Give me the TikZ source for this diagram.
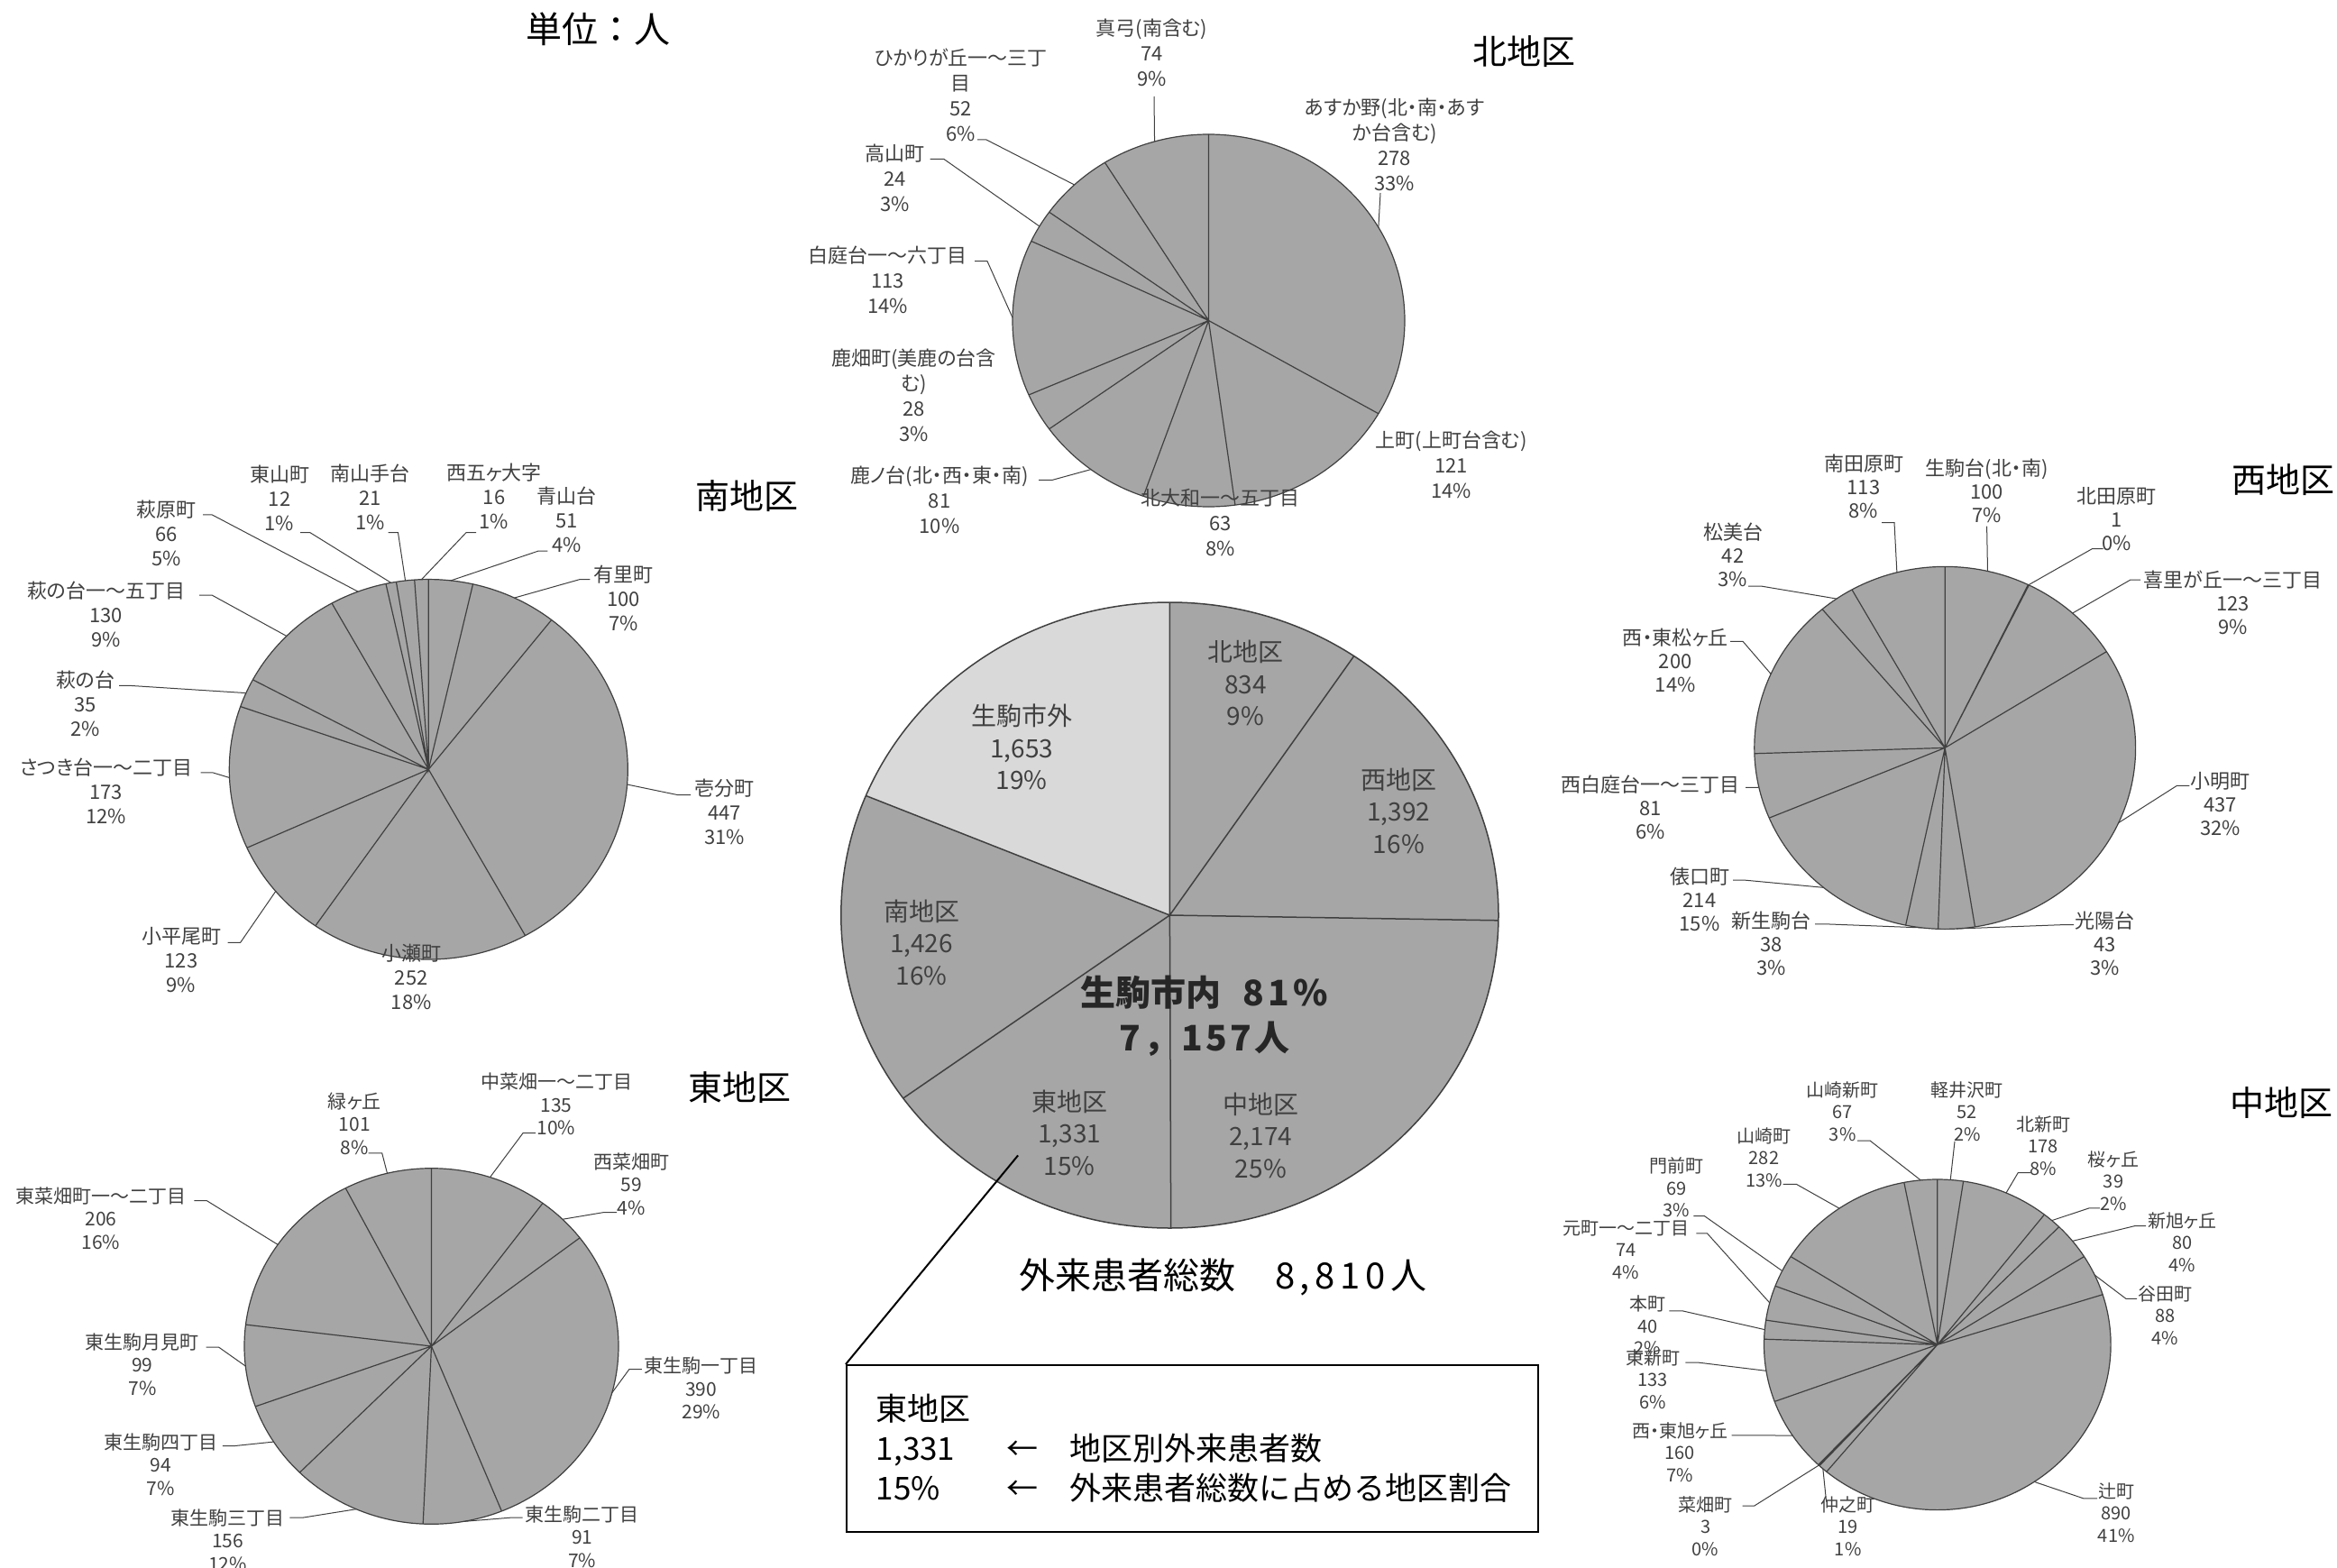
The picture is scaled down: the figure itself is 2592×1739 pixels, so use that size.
\documentclass[tikz,border=0pt]{standalone}
\usepackage{fontspec}
\setmainfont{Noto Sans CJK JP}[RawFeature=+palt]
\newfontfamily\wide{Noto Sans CJK JP}
\definecolor{pgray}{HTML}{A6A6A6}
\definecolor{lgray}{HTML}{D9D9D9}
\definecolor{dgray}{HTML}{404040}
\begin{document}
\begin{tikzpicture}[x=1pt, y=-1pt,
    pie/.style={fill=pgray, draw=dgray, line width=1.2pt},
    cut/.style={draw=dgray, line width=1.2pt},
    lead/.style={draw=dgray, line width=1pt},
    lab/.style={align=center, inner sep=0pt, text=dgray},
    labn/.style={lab, font=\fontsize{22}{28}\selectfont},
    labs/.style={lab, font=\fontsize{22}{27}\selectfont},
    labw/.style={lab, font=\fontsize{22}{26}\selectfont},
    labe/.style={lab, font=\fontsize{21}{25.5}\selectfont},
    labk/.style={lab, font=\fontsize{20}{24.5}\selectfont},
    labc/.style={lab, font=\wide\fontsize{28}{35.5}\selectfont},
    ttl/.style={inner sep=0pt, font=\fontsize{38}{40}\selectfont}]
    \useasboundingbox (0,0) rectangle (2592,1739);

    \node[ttl, font=\wide\fontsize{40}{44}\selectfont] (unit) at (663,32) {単位：人};
    \node[ttl] (tn) at (1690,57) {北地区};
    \node[ttl] (ts) at (828,550) {南地区};
    \node[ttl] (tw) at (2532,532.5) {西地区};
    \node[ttl] (te) at (820.7,1206) {東地区};
    \node[ttl] (tk) at (2530,1223) {中地区};

    \begin{scope}[shift={(1340.5,355.5)}, x=217.5pt, y=-206.5pt]
        \filldraw[pie] (0,0) circle [radius=1];
        \draw[cut] (-90:1) -- (0,0) -- (30:1) (0,0) -- (82.23:1) (0,0) -- (109.42:1)
            (0,0) -- (144.39:1) (0,0) -- (156.47:1) (0,0) -- (205.25:1)
            (0,0) -- (215.61:1) (0,0) -- (238.06:1);
        \coordinate (n1e) at (-30:1);
        \coordinate (n4e) at (126.9:1);
        \coordinate (n6e) at (180.9:1);
        \coordinate (n7e) at (210.4:1);
        \coordinate (n8e) at (226.8:1);
        \coordinate (n9e) at (254:1);
    \end{scope}
    \node[labn] (n1) at (1546.8,160.7) {あすか野(北・南・あす\\か台含む)\\278\\33\%};
    \node[labn] (n2) at (1609.6,515.6) {上町(上町台含む)\\121\\14\%};
    \node[labn] (n3) at (1353.3,579) {北大和一～五丁目\\63\\8\%};
    \node[labn] (n4) at (1042,554.5) {鹿ノ台(北・西・東・南)\\81\\10\%};
    \node[labn] (n5) at (1013.4,438.6) {鹿畑町(美鹿の台含\\む)\\28\\3\%};
    \node[labn] (n6) at (984.6,310.7) {白庭台一～六丁目\\113\\14\%};
    \node[labn] (n7) at (992.4,197.3) {高山町\\24\\3\%};
    \node[labn] (n8) at (1065.7,105.5) {ひかりが丘一～三丁\\目\\52\\6\%};
    \node[labn] (n9) at (1277.5,58.6) {真弓(南含む)\\74\\9\%};
    \coordinate (n1a) at (1531,214);
    \coordinate (n4a) at (1152,532.4);
    \coordinate (n6a) at (1081,289.7);
    \coordinate (n7a) at (1031.7,176.3);
    \coordinate (n8a) at (1084,155);
    \coordinate (n9a) at (1280,107);
    \draw[lead] (n1a) -- (n1e);
    \draw[lead] (n4a) -- ++(15,0) -- (n4e);
    \draw[lead] (n6a) -- ++(14,0) -- (n6e);
    \draw[lead] (n7a) -- ++(15,0) -- (n7e);
    \draw[lead] (n8a) -- ++(10,0) -- (n8e);
    \draw[lead] (n9a) -- (n9e);

    \begin{scope}[shift={(475.3,853.3)}, x=221pt, y=-210.75pt]
        \filldraw[pie] (0,0) circle [radius=1];
        \draw[cut] (-90:1) -- (0,0) -- (-77.13:1) (0,0) -- (-51.88:1) (0,0) -- (60.97:1)
            (0,0) -- (124.59:1) (0,0) -- (155.64:1) (0,0) -- (199.31:1)
            (0,0) -- (208.15:1) (0,0) -- (240.97:1) (0,0) -- (257.63:1)
            (0,0) -- (260.66:1) (0,0) -- (265.96:1);
        \coordinate (s1e) at (259.15:1);
        \coordinate (s2e) at (263.31:1);
        \coordinate (s3e) at (267.98:1);
        \coordinate (s4e) at (-83.56:1);
        \coordinate (s5e) at (-64.5:1);
        \coordinate (s6e) at (4.55:1);
        \coordinate (s8e) at (140.1:1);
        \coordinate (s9e) at (177.5:1);
        \coordinate (s10e) at (203.7:1);
        \coordinate (s11e) at (224.56:1);
        \coordinate (s12e) at (249.3:1);
    \end{scope}
    \node[labs] (s1) at (310,552.2) {東山町\\12\\1\%};
    \node[labs] (s2) at (410.4,551.1) {南山手台\\21\\1\%};
    \node[labs] (s3) at (548,550.6) {西五ヶ大字\\16\\1\%};
    \node[labs] (s4) at (628.5,576.4) {青山台\\51\\4\%};
    \node[labs] (s5) at (691.7,663.7) {有里町\\100\\7\%};
    \node[labs] (s6) at (803.6,900.4) {壱分町\\447\\31\%};
    \node[labs] (s7) at (456.3,1083.8) {小瀬町\\252\\18\%};
    \node[labs] (s8) at (201,1064.5) {小平尾町\\123\\9\%};
    \node[labs] (s9) at (117.7,877.6) {さつき台一～二丁目\\173\\12\%};
    \node[labs] (s10) at (94.7,780.1) {萩の台\\35\\2\%};
    \node[labs] (s11) at (117.7,681.7) {萩の台一～五丁目\\130\\9\%};
    \node[labs] (s12) at (184.8,591.6) {萩原町\\66\\5\%};
    \coordinate (s1a) at (333,590.7);
    \coordinate (s2a) at (430.5,590.7);
    \coordinate (s3a) at (528,590.7);
    \coordinate (s4a) at (607.3,611);
    \coordinate (s5a) at (654.4,642.5);
    \coordinate (s6a) at (766,881.7);
    \coordinate (s8a) at (252.6,1045.4);
    \coordinate (s9a) at (222.7,856.8);
    \coordinate (s10a) at (132,760.3);
    \coordinate (s11a) at (221,660);
    \coordinate (s12a) at (225,570.8);
    \draw[lead] (s1a) -- ++(11,0) -- (s1e);
    \draw[lead] (s2a) -- ++(11,0) -- (s2e);
    \draw[lead] (s3a) -- ++(-11,0) -- (s3e);
    \draw[lead] (s4a) -- ++(-10,0) -- (s4e);
    \draw[lead] (s5a) -- ++(-11,0) -- (s5e);
    \draw[lead] (s6a) -- ++(-14,0) -- (s6e);
    \draw[lead] (s8a) -- ++(14,0) -- (s8e);
    \draw[lead] (s9a) -- ++(13,0) -- (s9e);
    \draw[lead] (s10a) -- ++(11,0) -- (s10e);
    \draw[lead] (s11a) -- ++(14,0) -- (s11e);
    \draw[lead] (s12a) -- ++(10,0) -- (s12e);

    \begin{scope}[shift={(2157.2,829.4)}, x=211.4pt, y=-201pt]
        \filldraw[pie] (0,0) circle [radius=1];
        \draw[cut] (-90:1) -- (0,0) -- (-64.14:1) (0,0) -- (-63.88:1) (0,0) -- (-32.07:1)
            (0,0) -- (80.95:1) (0,0) -- (92.07:1) (0,0) -- (101.9:1)
            (0,0) -- (157.24:1) (0,0) -- (178.19:1) (0,0) -- (229.91:1)
            (0,0) -- (240.78:1);
        \coordinate (w1e) at (-77.07:1);
        \coordinate (w2e) at (-64.01:1);
        \coordinate (w3e) at (-48:1);
        \coordinate (w4e) at (24.44:1);
        \coordinate (w5e) at (86.51:1);
        \coordinate (w6e) at (96.99:1);
        \coordinate (w7e) at (129.57:1);
        \coordinate (w8e) at (167.72:1);
        \coordinate (w9e) at (204.05:1);
        \coordinate (w10e) at (235.35:1);
        \coordinate (w11e) at (255.39:1);
    \end{scope}
    \node[labw] (w1) at (2203.6,543.9) {生駒台(北・南)\\100\\7\%};
    \node[labw] (w2) at (2347.5,575.5) {北田原町\\1\\0\%};
    \node[labw] (w3) at (2476.7,668.8) {喜里が丘一～三丁目\\123\\9\%};
    \node[labw] (w4) at (2462.5,891.2) {小明町\\437\\32\%};
    \node[labw] (w5) at (2334.4,1045.9) {光陽台\\43\\3\%};
    \node[labw] (w6) at (1964.6,1045.9) {新生駒台\\38\\3\%};
    \node[labw] (w7) at (1885,997) {俵口町\\214\\15\%};
    \node[labw] (w8) at (1830.9,895.2) {西白庭台一～三丁目\\81\\6\%};
    \node[labw] (w9) at (1858.2,732.7) {西・東松ヶ丘\\200\\14\%};
    \node[labw] (w10) at (1922,615.7) {松美台\\42\\3\%};
    \node[labw] (w11) at (2067,539.3) {南田原町\\113\\8\%};
    \coordinate (w1a) at (2203.6,583.6);
    \coordinate (w2a) at (2332.7,608.5);
    \coordinate (w3a) at (2374,643);
    \coordinate (w4a) at (2428.3,871.4);
    \coordinate (w5a) at (2300,1025.7);
    \coordinate (w6a) at (2013,1024.9);
    \coordinate (w7a) at (1922,976.2);
    \coordinate (w8a) at (1936,873.4);
    \coordinate (w9a) at (1919,711.3);
    \coordinate (w10a) at (1939,650);
    \coordinate (w11a) at (2087,579.6);
    \draw[lead] (w1a) -- (w1e);
    \draw[lead] (w2a) -- ++(-12,0) -- (w2e);
    \draw[lead] (w3a) -- ++(-11,0) -- (w3e);
    \draw[lead] (w4a) -- ++(-14,0) -- (w4e);
    \draw[lead] (w5a) -- ++(-14,0) -- (w5e);
    \draw[lead] (w6a) -- ++(14,0) -- (w6e);
    \draw[lead] (w7a) -- ++(14,0) -- (w7e);
    \draw[lead] (w8a) -- ++(14,0) -- (w8e);
    \draw[lead] (w9a) -- ++(14,0) -- (w9e);
    \draw[lead] (w10a) -- ++(14,0) -- (w10e);
    \draw[lead] (w11a) -- ++(14,0) -- (w11e);

    \begin{scope}[shift={(478.5,1493)}, x=207.5pt, y=-197.3pt]
        \filldraw[pie] (0,0) circle [radius=1];
        \draw[cut] (-90:1) -- (0,0) -- (-53.49:1) (0,0) -- (-37.53:1) (0,0) -- (67.95:1)
            (0,0) -- (92.57:1) (0,0) -- (134.76:1) (0,0) -- (160.19:1)
            (0,0) -- (186.96:1) (0,0) -- (242.68:1);
        \coordinate (e1e) at (256.34:1);
        \coordinate (e2e) at (-71.74:1);
        \coordinate (e3e) at (-45.51:1);
        \coordinate (e4e) at (15.21:1);
        \coordinate (e5e) at (80.26:1);
        \coordinate (e6e) at (113.67:1);
        \coordinate (e7e) at (147.48:1);
        \coordinate (e8e) at (173.58:1);
        \coordinate (e9e) at (214.82:1);
    \end{scope}
    \node[labe] (e1) at (393.2,1246.2) {緑ヶ丘\\101\\8\%};
    \node[labe] (e2) at (617,1224.6) {中菜畑一～二丁目\\135\\10\%};
    \node[labe] (e3) at (700.3,1313.2) {西菜畑町\\59\\4\%};
    \node[labe] (e4) at (777.8,1539.7) {東生駒一丁目\\390\\29\%};
    \node[labe] (e5) at (645.8,1704.2) {東生駒二丁目\\91\\7\%};
    \node[labe] (e6) at (252.6,1708) {東生駒三丁目\\156\\12\%};
    \node[labe] (e7) at (178,1624.2) {東生駒四丁目\\94\\7\%};
    \node[labe] (e8) at (157.9,1513) {東生駒月見町\\99\\7\%};
    \node[labe] (e9) at (112,1351.2) {東菜畑町一～二丁目\\206\\16\%};
    \coordinate (e1a) at (408.7,1278.8);
    \coordinate (e2a) at (594,1256.7);
    \coordinate (e3a) at (684,1344.5);
    \coordinate (e4a) at (711.8,1518.7);
    \coordinate (e5a) at (579.7,1683.2);
    \coordinate (e6a) at (321.4,1683.2);
    \coordinate (e7a) at (246.8,1603.5);
    \coordinate (e8a) at (228.5,1494);
    \coordinate (e9a) at (215.3,1331.6);
    \draw[lead] (e1a) -- ++(15,0) -- (e1e);
    \draw[lead] (e2a) -- ++(-14,0) -- (e2e);
    \draw[lead] (e3a) -- ++(-14,0) -- (e3e);
    \draw[lead] (e4a) -- ++(-14,0) -- (e4e);
    \draw[lead] (e5a) -- ++(-14,0) -- (e5e);
    \draw[lead] (e6a) -- ++(14,0) -- (e6e);
    \draw[lead] (e7a) -- ++(14,0) -- (e7e);
    \draw[lead] (e8a) -- ++(14,0) -- (e8e);
    \draw[lead] (e9a) -- ++(14,0) -- (e9e);

    \begin{scope}[shift={(2148.8,1491.3)}, x=192.3pt, y=-183.3pt]
        \filldraw[pie] (0,0) circle [radius=1];
        \draw[cut] (-90:1) -- (0,0) -- (-81.39:1) (0,0) -- (-51.91:1) (0,0) -- (-45.46:1)
            (0,0) -- (-32.21:1) (0,0) -- (-17.64:1) (0,0) -- (129.74:1)
            (0,0) -- (132.89:1) (0,0) -- (133.39:1) (0,0) -- (159.88:1)
            (0,0) -- (181.9:1) (0,0) -- (188.53:1) (0,0) -- (200.78:1)
            (0,0) -- (212.21:1) (0,0) -- (258.91:1);
        \coordinate (k1e) at (-85.7:1);
        \coordinate (k2e) at (-66.65:1);
        \coordinate (k3e) at (-48.7:1);
        \coordinate (k4e) at (-38.83:1);
        \coordinate (k5e) at (-24.92:1);
        \coordinate (k6e) at (56.05:1);
        \coordinate (k7e) at (131.32:1);
        \coordinate (k8e) at (133.14:1);
        \coordinate (k9e) at (146.64:1);
        \coordinate (k10e) at (170.89:1);
        \coordinate (k11e) at (185.22:1);
        \coordinate (k12e) at (194.66:1);
        \coordinate (k13e) at (206.5:1);
        \coordinate (k14e) at (235.56:1);
        \coordinate (k15e) at (264.46:1);
    \end{scope}
    \node[labk] (k1) at (2181.9,1232.5) {軽井沢町\\52\\2\%};
    \node[labk] (k2) at (2266,1270.4) {北新町\\178\\8\%};
    \node[labk] (k3) at (2344,1309.4) {桜ヶ丘\\39\\2\%};
    \node[labk] (k4) at (2420.5,1377.5) {新旭ヶ丘\\80\\4\%};
    \node[labk] (k5) at (2401.3,1458.6) {谷田町\\88\\4\%};
    \node[labk] (k6) at (2347.2,1677.3) {辻町\\890\\41\%};
    \node[labk] (k7) at (2049.7,1692.7) {仲之町\\19\\1\%};
    \node[labk] (k8) at (1891.6,1692.7) {菜畑町\\3\\0\%};
    \node[labk] (k9) at (1863.4,1610.4) {西・東旭ヶ丘\\160\\7\%};
    \node[labk] (k10) at (1833.3,1529.4) {東新町\\133\\6\%};
    \node[labk] (k11) at (1827.3,1470) {本町\\40\\2\%};
    \node[labk] (k12) at (1803.3,1386) {元町一～二丁目\\74\\4\%};
    \node[labk] (k13) at (1859.1,1317) {門前町\\69\\3\%};
    \node[labk] (k14) at (1956.5,1283.5) {山崎町\\282\\13\%};
    \node[labk] (k15) at (2043.7,1232.6) {山崎新町\\67\\3\%};
    \coordinate (k1a) at (2168,1266);
    \coordinate (k2a) at (2252.2,1300.7);
    \coordinate (k3a) at (2329,1339.9);
    \coordinate (k4a) at (2380.2,1359.5);
    \coordinate (k5a) at (2370,1440.4);
    \coordinate (k6a) at (2326,1661.9);
    \coordinate (k7a) at (2025.6,1665.5);
    \coordinate (k8a) at (1932.5,1670.2);
    \coordinate (k9a) at (1920.5,1591.8);
    \coordinate (k10a) at (1869.4,1511.2);
    \coordinate (k11a) at (1851.3,1453.9);
    \coordinate (k12a) at (1881.4,1367.8);
    \coordinate (k13a) at (1878.4,1348.6);
    \coordinate (k14a) at (1977.5,1313.4);
    \coordinate (k15a) at (2060,1265);
    \draw[lead] (k1a) -- (k1e);
    \draw[lead] (k2a) -- ++(-14,0) -- (k2e);
    \draw[lead] (k3a) -- ++(-12,0) -- (k3e);
    \draw[lead] (k4a) -- ++(-12,0) -- (k4e);
    \draw[lead] (k5a) -- ++(-12,0) -- (k5e);
    \draw[lead] (k6a) -- ++(-15,0) -- (k6e);
    \draw[lead] (k7a) -- (k7e);
    \draw[lead] (k8a) -- ++(13,0) -- (k8e);
    \draw[lead] (k9a) -- ++(15,0) -- (k9e);
    \draw[lead] (k10a) -- ++(15,0) -- (k10e);
    \draw[lead] (k11a) -- ++(15,0) -- (k11e);
    \draw[lead] (k12a) -- ++(12,0) -- (k12e);
    \draw[lead] (k13a) -- ++(12,0) -- (k13e);
    \draw[lead] (k14a) -- ++(15,0) -- (k14e);
    \draw[lead] (k15a) -- ++(14,0) -- (k15e);

    \begin{scope}[shift={(1297.4,1015)}, x=364.6pt, y=-347pt]
        \fill[pgray] (0,0) circle [radius=1];
        \fill[lgray] (0,0) -- (202.45:1) arc [start angle=202.45, end angle=270, radius=1] -- cycle;
        \draw[cut, line width=1.5pt] (-90:1) -- (0,0) -- (-55.92:1) (0,0) -- (0.96:1)
            (0,0) -- (89.8:1) (0,0) -- (144.19:1) (0,0) -- (202.45:1);
        \draw[draw=dgray, line width=1.5pt] (0,0) circle [radius=1];
    \end{scope}
    \node[labc] (c1) at (1381.6,757.8) {北地区\\834\\9\%};
    \node[labc] (c2) at (1551.4,899) {西地区\\1,392\\16\%};
    \node[labc] (c3) at (1398.4,1259.3) {中地区\\2,174\\25\%};
    \node[labc] (c4) at (1186.2,1256.2) {東地区\\1,331\\15\%};
    \node[labc] (c5) at (1022,1045.1) {南地区\\1,426\\16\%};
    \node[labc] (c6) at (1133.2,828.5) {生駒市外\\1,653\\19\%};
    \node[lab, text=black!85, font=\wide\fontsize{39}{50}\selectfont\bfseries] (c7) at (1335.7,1126.5)
        {生駒市内\hspace{24pt}{\addfontfeature{LetterSpace=12}81\%}\\{\addfontfeature{LetterSpace=8}7，157人}};
    \node[inner sep=0pt, anchor=west, font=\wide\fontsize{40}{44}\selectfont] (tot) at (1130,1416.7)
        {外来患者総数\hspace{44pt}{\addfontfeature{LetterSpace=14}8,810人}};
    \node[draw=black, line width=1.8pt, anchor=north west, inner xsep=33pt, inner ysep=0pt,
        text width=701pt, minimum height=185pt, align=left,
        font=\wide\fontsize{35}{44}\selectfont] (key) at (938,1513)
        {東地区\\\makebox[145pt][l]{1,331}\makebox[70pt][l]{←}地区別外来患者数\\
         \makebox[145pt][l]{15\%}\makebox[70pt][l]{←}外来患者総数に占める地区割合};
    \coordinate (k) at (1129.1,1281.4);
    \draw[line width=2pt] (k) -- (key.north west);
\end{tikzpicture}
\end{document}
